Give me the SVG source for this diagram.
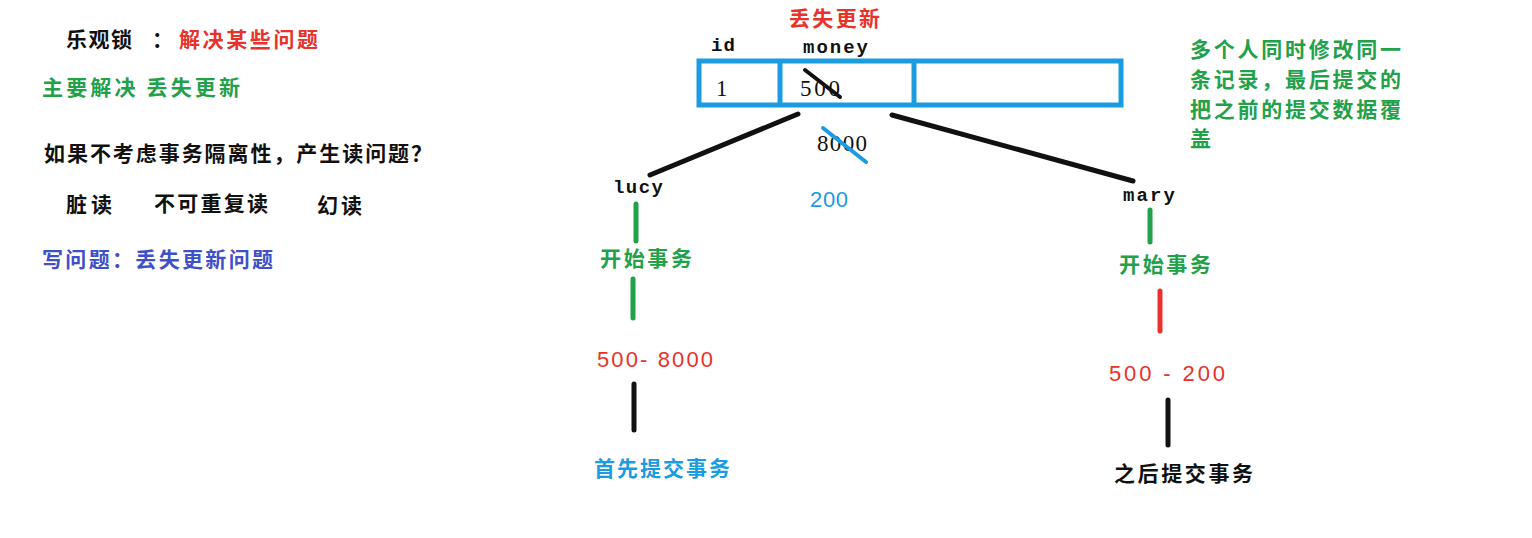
<svg xmlns="http://www.w3.org/2000/svg" width="1532" height="538" viewBox="0 0 1532 538">
<style>
.cjk{font-family:"Noto Sans CJK SC",sans-serif;font-size:21px;font-weight:bold}
.k{fill:#111}
.r{fill:#e8322c}
.g{fill:#23a04a}
.b{fill:#1b9be0}
.db{fill:#4050c8}
.mono{font-family:"Liberation Mono",monospace;font-weight:bold;font-size:19px;fill:#111}
.serif{font-family:"Liberation Serif",serif;font-size:23px;fill:#111}
.num{font-family:"Liberation Sans",sans-serif;font-size:22px}
.ln{stroke-linecap:round;fill:none}
</style>
<rect width="1532" height="538" fill="#fff"/>
<g id="notes">
<text class="cjk k" x="66" y="47" textLength="66">乐观锁</text>
<text class="cjk k" x="152" y="47">：</text>
<text class="cjk r" x="179" y="47" textLength="139">解决某些问题</text>
<text class="cjk g" x="42" y="95" textLength="198">主要解决  丢失更新</text>
<text class="cjk k" x="44" y="161" textLength="388">如果不考虑事务隔离性，产生读问题？</text>
<text class="cjk k" x="66" y="212" textLength="46">脏读</text>
<text class="cjk k" x="154" y="211" textLength="114">不可重复读</text>
<text class="cjk k" x="317" y="213" textLength="45">幻读</text>
<text class="cjk db" x="42" y="267" textLength="231">写问题：丢失更新问题</text>
</g>
<g id="title"><text class="cjk r" x="789" y="26" textLength="91">丢失更新</text></g>
<g id="table">
<text class="mono" x="711" y="51" textLength="24">id</text>
<text class="mono" x="803" y="53" textLength="65">money</text>
<rect x="699" y="61" width="422" height="44" fill="none" stroke="#1b9be0" stroke-width="5"/>
<line x1="780" y1="61" x2="780" y2="105" stroke="#1b9be0" stroke-width="5"/>
<line x1="914" y1="61" x2="914" y2="105" stroke="#1b9be0" stroke-width="5"/>
<text class="serif" x="716" y="96">1</text>
<text class="serif" x="800" y="96" textLength="40">500</text>
<line class="ln" x1="805" y1="70" x2="840" y2="97" stroke="#111" stroke-width="4"/>
</g>
<g id="values">
<text class="serif" x="817" y="151" textLength="50">8000</text>
<line class="ln" x1="823" y1="128" x2="866" y2="162" stroke="#1b9be0" stroke-width="4"/>
<text class="num b" x="810" y="207" textLength="38">200</text>
</g>
<g id="lucy">
<text class="mono" x="613" y="193" textLength="50">lucy</text>
<text class="cjk g" x="600" y="266" textLength="92">开始事务</text>
<text class="num r" x="597" y="367" textLength="116">500- 8000</text>
<text class="cjk b" x="594" y="476" textLength="136">首先提交事务</text>
</g>
<g id="mary">
<text class="mono" x="1123" y="201" textLength="52">mary</text>
<text class="cjk g" x="1119" y="272" textLength="92">开始事务</text>
<text class="num r" x="1109" y="381" textLength="116">500 - 200</text>
<text class="cjk k" x="1114" y="481" textLength="139">之后提交事务</text>
</g>
<g id="explain">
<text class="cjk g" x="1190" y="57" textLength="211">多个人同时修改同一</text>
<text class="cjk g" x="1190" y="87" textLength="211">条记录，最后提交的</text>
<text class="cjk g" x="1190" y="117" textLength="211">把之前的提交数据覆</text>
<text class="cjk g" x="1190" y="146">盖</text>
</g>
<g id="connectors" class="ln" stroke-width="5">
<line x1="798" y1="114" x2="650" y2="175" stroke="#111"/>
<line x1="892" y1="115" x2="1133" y2="181" stroke="#111"/>
<line x1="636" y1="204" x2="636" y2="241" stroke="#23a04a"/>
<line x1="633" y1="279" x2="633" y2="318" stroke="#23a04a"/>
<line x1="634" y1="384" x2="634" y2="430" stroke="#111"/>
<line x1="1150" y1="210" x2="1150" y2="242" stroke="#23a04a"/>
<line x1="1160" y1="291" x2="1160" y2="331" stroke="#e8322c"/>
<line x1="1168" y1="400" x2="1168" y2="445" stroke="#111"/>
</g>
</svg>
